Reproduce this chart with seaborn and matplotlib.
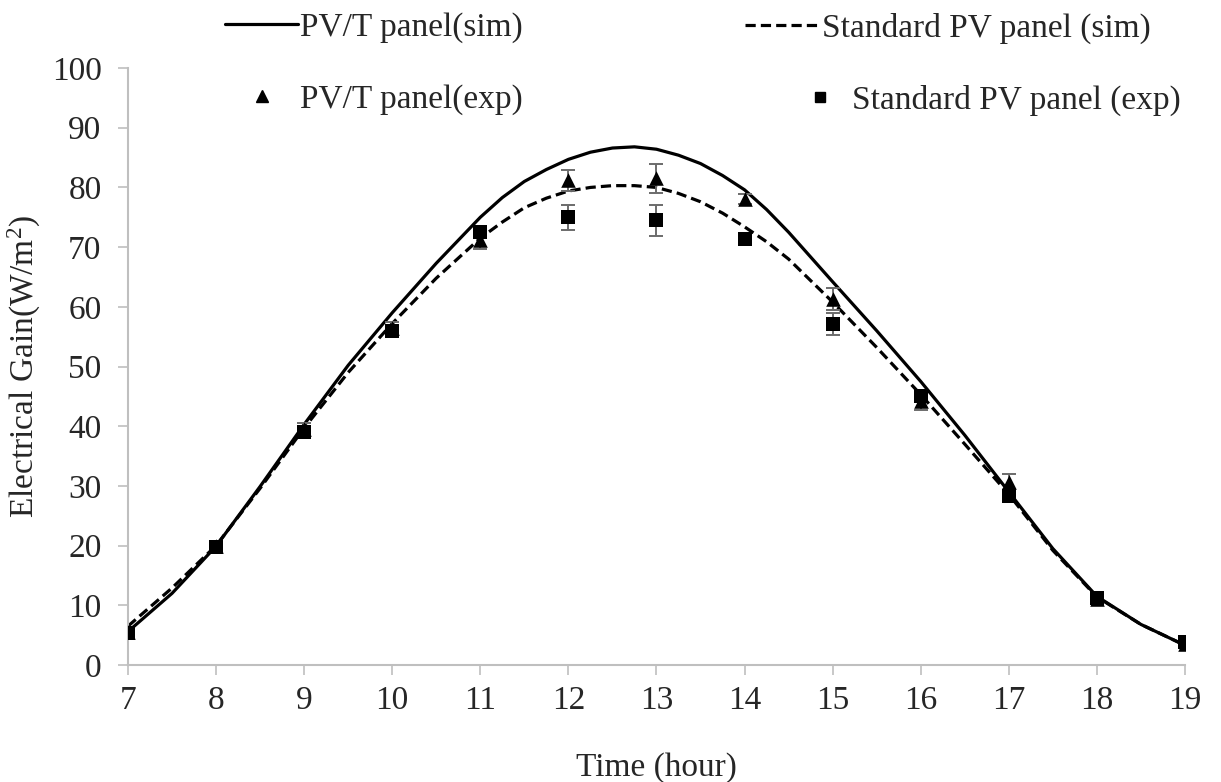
import numpy as np
import pandas as pd
import matplotlib
matplotlib.use("Agg")
import matplotlib.pyplot as plt
import seaborn as sns
from matplotlib.lines import Line2D

# ---------------- data ----------------
hours = [7, 8, 9, 10, 11, 12, 13, 14, 15, 16, 17, 18, 19]
pvt_exp = [5.5, 20.0, 39.5, 56.5, 71.2, 81.2, 81.5, 78.1, 61.3, 44.2, 30.7, 11.0, 3.5]
pvt_err = [0.5, 0.5, 1.0, 1.0, 1.5, 1.8, 2.5, 0.8, 1.8, 1.5, 1.3, 0.6, 0.4]
std_exp = [5.4, 19.8, 39.0, 55.9, 72.6, 75.0, 74.5, 71.4, 57.1, 45.0, 28.3, 11.3, 3.8]
std_err = [0.4, 0.5, 0.8, 0.8, 0.8, 2.1, 2.6, 1.0, 1.8, 1.0, 0.8, 0.6, 0.4]

sim_hours = [7, 7.5, 8, 8.5, 9, 9.5, 10, 10.5, 11, 11.25, 11.5, 11.75, 12, 12.25,
             12.5, 12.75, 13, 13.25, 13.5, 13.75, 14, 14.25, 14.5, 15, 15.5, 16,
             16.5, 17, 17.5, 18, 18.5, 19]
pvt_sim = [5.6, 12.0, 19.9, 29.9, 40.3, 50.2, 59.0, 67.3, 75.0, 78.3, 81.0, 83.0, 84.7, 85.9,
           86.6, 86.8, 86.4, 85.4, 84.0, 82.0, 79.6, 76.3, 72.5, 64.2, 56.0, 47.5,
           38.5, 29.0, 19.5, 11.5, 6.8, 3.3]
std_sim = [6.5, 12.9, 20.0, 29.6, 39.7, 49.0, 57.2, 64.8, 71.5, 74.2, 76.6, 78.2, 79.4, 80.0,
           80.3, 80.3, 80.0, 79.0, 77.6, 75.7, 73.4, 70.9, 68.0, 60.8, 53.2, 45.3,
           37.0, 28.6, 19.2, 11.4, 6.8, 3.3]

xticks = list(range(7, 20))
yticks = list(range(0, 101, 10))

# ---------------- style ----------------
sns.set_style("white")
plt.rcParams["font.family"] = ["Liberation Serif", "DejaVu Serif"]
plt.rcParams["mathtext.fontset"] = "custom"
plt.rcParams["mathtext.rm"] = "Liberation Serif"
plt.rcParams["mathtext.default"] = "regular"

FS = 24
fig = plt.figure(figsize=(12.21, 7.82), dpi=100)
ax = fig.add_axes([0.1048, 0.1496, 0.8657, 0.7634])

sim_df = pd.DataFrame({"t": sim_hours, "pvt": pvt_sim, "std": std_sim})
exp_df = pd.DataFrame({"t": hours, "pvt": pvt_exp, "std": std_exp})

sns.lineplot(data=sim_df, x="t", y="pvt", ax=ax, color="black", lw=2.3, zorder=2)
sns.lineplot(data=sim_df, x="t", y="std", ax=ax, color="black", lw=2.3, zorder=2)
ax.lines[-1].set_dashes((3.2, 1.6))

ax.errorbar(hours, pvt_exp, yerr=pvt_err, fmt="none", ecolor="#6b6b6b",
            elinewidth=1.4, capsize=5, capthick=1.4, zorder=3)
ax.errorbar(hours, std_exp, yerr=std_err, fmt="none", ecolor="#6b6b6b",
            elinewidth=1.4, capsize=5, capthick=1.4, zorder=3)

sns.scatterplot(data=exp_df, x="t", y="pvt", ax=ax, marker="^", s=110,
                color="black", edgecolor="black", linewidth=0, zorder=4)
sns.scatterplot(data=exp_df, x="t", y="std", ax=ax, marker="s", s=95,
                color="black", edgecolor="black", linewidth=0, zorder=4)

ax.set_xlim(7, 19)
ax.set_ylim(0, 100)
ax.set_xticks(xticks)
ax.set_yticks(yticks)
ax.tick_params(axis="both", labelsize=FS, length=7, width=1.2, color="#bfbfbf",
               direction="out", left=True, bottom=True)
ax.tick_params(axis="x", pad=8)
ax.tick_params(axis="y", pad=12)
for s in ["top", "right"]:
    ax.spines[s].set_visible(False)
for s in ["left", "bottom"]:
    ax.spines[s].set_color("#bfbfbf")
    ax.spines[s].set_linewidth(1.5)

ax.set_xlabel("Time (hour)", fontsize=FS, labelpad=26)
ax.set_ylabel("Electrical Gain(W/m$^2$)", fontsize=FS, labelpad=6)

# ---------------- legends ----------------
def add_leg(handle, label, x, y, hl, pad):
    leg = fig.legend([handle], [label], loc="center left",
                     bbox_to_anchor=(x, y), bbox_transform=fig.transFigure,
                     frameon=False, fontsize=FS, handlelength=hl,
                     handletextpad=pad, borderpad=0, borderaxespad=0)
    return leg

h1 = Line2D([], [], color="black", lw=2.3)
h2 = Line2D([], [], color="black", lw=2.3, dashes=(3.2, 1.6))
h3 = Line2D([], [], color="black", ls="none", marker="^", markersize=8)
h4 = Line2D([], [], color="black", ls="none", marker="s", markersize=7)

add_leg(h1, "PV/T panel(sim)", 225 / 1221, 1 - 28 / 782, 2.19, 0.05)
add_leg(h2, "Standard PV panel (sim)", 745 / 1221, 1 - 28 / 782, 2.25, 0.05)
add_leg(h3, "PV/T panel(exp)", 225 / 1221, 1 - 100 / 782, 2.19, 0.05)
add_leg(h4, "Standard PV panel (exp)", 795 / 1221, 1 - 100 / 782, 1.5, 0.21)

fig.savefig("out.png", dpi=100)
